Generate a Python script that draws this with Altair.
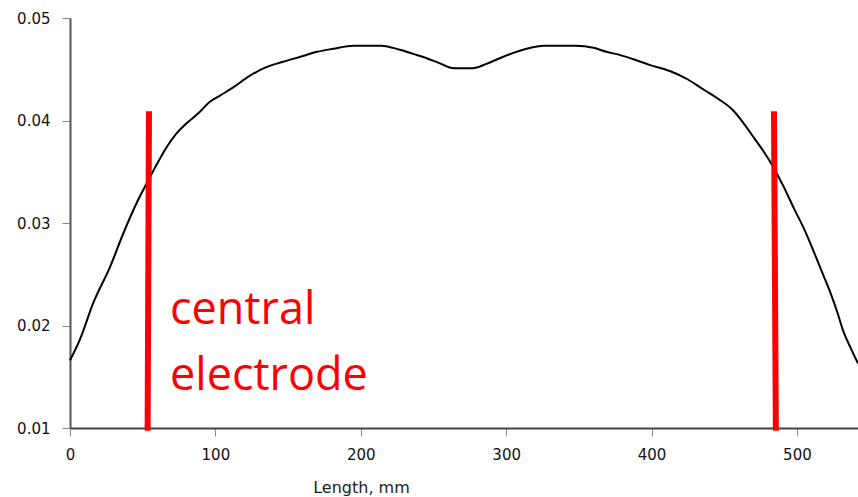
import altair as alt
import pandas as pd

# Curve
length_mm = [0, 7, 16, 27.5, 36.7, 46, 54, 60, 66, 73, 80, 89, 96, 104, 112, 123, 135,
             146, 158, 170, 181, 195, 214, 227, 236, 245, 254, 264, 277, 286, 296,
             305, 314, 326, 348, 360, 369, 378, 387, 399, 413, 425, 436, 446, 456,
             463, 470, 477, 484, 491, 498, 505, 511, 517, 523, 528, 532, 537, 542]
value = [0.0166, 0.0187, 0.0222, 0.0257, 0.0290, 0.0320, 0.0342, 0.0358, 0.0373,
         0.0387, 0.0397, 0.0408, 0.0418, 0.0425, 0.0432, 0.0443, 0.0452, 0.0457,
         0.0462, 0.0467, 0.0470, 0.0473, 0.0473, 0.0469, 0.0465, 0.0461, 0.0456,
         0.0451, 0.0451, 0.0455, 0.0461, 0.0466, 0.0470, 0.0473, 0.0473, 0.0471,
         0.0467, 0.0464, 0.0460, 0.0454, 0.0448, 0.0440, 0.0430, 0.0421, 0.0410,
         0.0398, 0.0384, 0.0370, 0.0354, 0.0335, 0.0314, 0.0294, 0.0274, 0.0253,
         0.0232, 0.0212, 0.0194, 0.0178, 0.0163]

# Electrode markers (red lines)
marker_x_top = [54.3, 484.2]
marker_x_bottom = [53.4, 485.5]
marker_y_top = [0.0409, 0.0409]
marker_y_bottom = [0.00974, 0.00974]

# Annotation
label_lines = ["central", "electrode"]
label_x = [68.8, 68.8]
label_y = [0.0201, 0.01374]

x_ticks = [0, 100, 200, 300, 400, 500]
y_ticks = [0.01, 0.02, 0.03, 0.04, 0.05]

curve_df = pd.DataFrame({"x": length_mm, "y": value})
marker_df = pd.DataFrame({"x": marker_x_top, "x2": marker_x_bottom,
                          "y": marker_y_top, "y2": marker_y_bottom})
label_df = pd.DataFrame({"t": label_lines, "x": label_x, "y": label_y})

xscale = alt.Scale(domain=[0, 542], nice=False, zero=False)
yscale = alt.Scale(domain=[0.01, 0.05], nice=False, zero=False)

x_axis = alt.Axis(values=x_ticks, format="d", title="Length, mm", grid=False,
                  tickSize=8, tickColor="#888888", domainColor="#444444",
                  domainWidth=2, labelFont="DejaVu Sans", labelFontSize=15,
                  labelColor="#111111", labelPadding=11, labelFlush=False,
                  titleFont="DejaVu Sans", titleFontSize=16, titleFontWeight="normal",
                  titleColor="#222222", titleX=291, titleY=64,
                  titleAlign="center", titleBaseline="alphabetic")
y_axis = alt.Axis(values=y_ticks, format=".2f", title=None, grid=False,
                  tickSize=8, tickColor="#888888", domainColor="#555555",
                  domainWidth=2, labelFont="DejaVu Sans", labelFontSize=15,
                  labelColor="#111111", labelPadding=12, labelFlush=False)

curve = alt.Chart(curve_df).mark_line(color="black", strokeWidth=2,
                                      interpolate="monotone").encode(
    x=alt.X("x:Q", scale=xscale, axis=x_axis),
    y=alt.Y("y:Q", scale=yscale, axis=y_axis),
)

markers = alt.Chart(marker_df).mark_rule(color="#ff0000", strokeWidth=6).encode(
    x=alt.X("x:Q", scale=xscale),
    x2="x2:Q",
    y=alt.Y("y:Q", scale=yscale),
    y2="y2:Q",
)

labels = alt.Chart(label_df).mark_text(
    color="#ff0000", font="Open Sans", fontSize=45, align="left",
    baseline="alphabetic"
).encode(
    x=alt.X("x:Q", scale=xscale),
    y=alt.Y("y:Q", scale=yscale),
    text="t:N",
)

chart = alt.layer(curve, markers, labels).properties(
    width=788, height=410,
    autosize=alt.AutoSizeParams(type="none"),
    padding={"left": 70, "top": 18, "right": 0, "bottom": 69},
    background="white",
).configure_view(stroke=None)

chart.save("out.html", embed_options={"renderer": "svg", "actions": False})
